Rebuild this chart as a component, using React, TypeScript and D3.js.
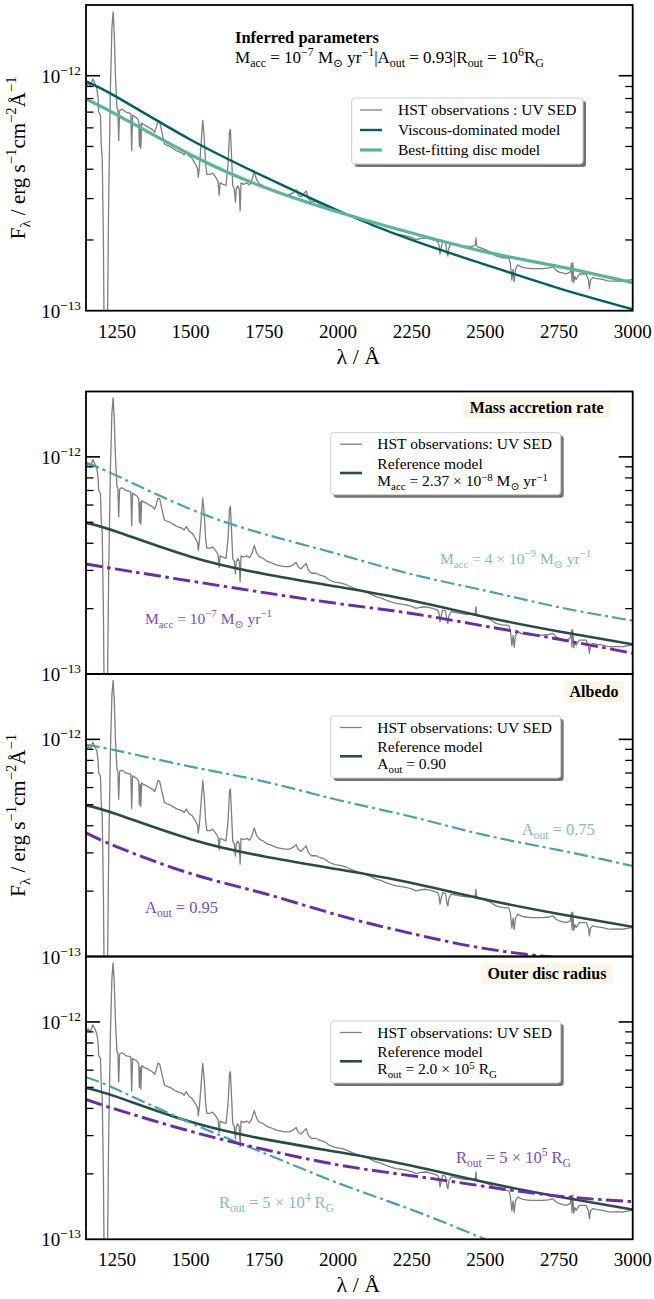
import React from 'react';
import * as d3 from 'd3';

// ---------------- DATA ----------------
// Observed HST UV SED (wavelength in Å, flux in 1e-12 erg s^-1 cm^-2 Å^-1)
const HST_WAVELENGTH = [
  1145, 1152, 1160, 1168, 1175, 1182, 1186, 1188, 1194, 1197, 1200, 1204, 1208, 1216, 1222, 1228, 1233, 1237, 1241, 1245,
  1250, 1253, 1256, 1259, 1265, 1270, 1280, 1290, 1297, 1300, 1303, 1310, 1318, 1324, 1326, 1329, 1331, 1334, 1340, 1350,
  1360, 1370, 1378, 1383, 1389, 1395, 1402, 1411, 1420, 1430, 1440, 1451, 1460, 1470, 1478, 1485, 1495, 1505, 1512, 1519,
  1524, 1526, 1530, 1535, 1541, 1546, 1551, 1555, 1565, 1575, 1585, 1593, 1597, 1600, 1610, 1620, 1627, 1632, 1635, 1639,
  1643, 1648, 1652, 1655, 1660, 1665, 1668, 1671, 1680, 1690, 1700, 1708, 1716, 1724, 1733, 1745, 1760, 1775, 1790, 1805,
  1820, 1835, 1848, 1858, 1866, 1875, 1884, 1892, 1900, 1910, 1926, 1940, 1955, 1971, 1990, 2011, 2030, 2050, 2070, 2095,
  2115, 2129, 2145, 2163, 2180, 2197, 2215, 2231, 2250, 2265, 2282, 2299, 2321, 2338, 2343, 2346, 2350, 2355, 2365, 2370,
  2373, 2376, 2384, 2400, 2412, 2435, 2455, 2466, 2468, 2470, 2474, 2491, 2508, 2519, 2536, 2559, 2570, 2580, 2585, 2590,
  2594, 2598, 2602, 2610, 2625, 2638, 2655, 2672, 2695, 2715, 2729, 2740, 2751, 2774, 2788, 2792, 2794, 2797, 2800, 2804,
  2808, 2819, 2842, 2850, 2853, 2857, 2864, 2880, 2898, 2915, 2932, 2950, 2966, 2985, 3000,
];
const HST_FLUX = [
  0.89, 0.93, 0.9, 0.97, 0.93, 0.88, 0.8, 0.7, 0.68, 0.5, 0.45, 0.2, 0.05, 0.05, 0.3, 0.9, 1.6, 1.87, 1.5, 1.0,
  0.73, 0.72, 0.53, 0.71, 0.72, 0.718, 0.7, 0.695, 0.69, 0.48, 0.68, 0.67, 0.66, 0.64, 0.5, 0.62, 0.49, 0.63, 0.62, 0.612,
  0.6, 0.59, 0.575, 0.6, 0.646, 0.64, 0.58, 0.513, 0.505, 0.5, 0.49, 0.48, 0.475, 0.47, 0.46, 0.478, 0.455, 0.445, 0.43, 0.415,
  0.4, 0.37, 0.41, 0.5, 0.645, 0.55, 0.42, 0.38, 0.38, 0.385, 0.37, 0.355, 0.31, 0.35, 0.345, 0.341, 0.42, 0.58, 0.59, 0.45,
  0.34, 0.33, 0.29, 0.33, 0.34, 0.33, 0.266, 0.35, 0.345, 0.35, 0.343, 0.36, 0.391, 0.36, 0.347, 0.341, 0.33, 0.325, 0.318, 0.315,
  0.312, 0.312, 0.318, 0.327, 0.31, 0.305, 0.315, 0.323, 0.3, 0.291, 0.291, 0.285, 0.281, 0.271, 0.265, 0.262, 0.257, 0.25, 0.244, 0.239,
  0.232, 0.227, 0.224, 0.219, 0.215, 0.2115, 0.21, 0.208, 0.205, 0.2006, 0.203, 0.204, 0.2006, 0.197, 0.19, 0.174, 0.185, 0.197, 0.195, 0.175,
  0.171, 0.185, 0.1936, 0.192, 0.19, 0.188, 0.188, 0.19, 0.204, 0.19, 0.187, 0.1836, 0.18, 0.1773, 0.171, 0.168, 0.168, 0.167, 0.158, 0.135,
  0.15, 0.133, 0.15, 0.1566, 0.153, 0.152, 0.151, 0.151, 0.151, 0.152, 0.1538, 0.1485, 0.146, 0.1433, 0.146, 0.159, 0.133, 0.16, 0.132, 0.14,
  0.1359, 0.1433, 0.1433, 0.135, 0.1244, 0.135, 0.1383, 0.137, 0.1359, 0.134, 0.1335, 0.134, 0.1335, 0.135, 0.136,
];

// Model curves sampled at these wavelengths (flux in 1e-12 units)
const MODEL_WAVELENGTH = [1145, 1250, 1500, 1750, 2000, 2250, 2500, 2750, 3000];
const VISCOUS_MODEL = [0.946, 0.811, 0.534, 0.372, 0.267, 0.2, 0.157, 0.1245, 0.1014];
const BEST_FIT_MODEL = [0.795, 0.682, 0.461, 0.335, 0.263, 0.214, 0.178, 0.154, 0.1316];
const REFERENCE_MODEL = [0.497, 0.452, 0.347, 0.289, 0.252, 0.218, 0.183, 0.157, 0.137];
const MACC_4E9 = [0.942, 0.818, 0.574, 0.441, 0.357, 0.288, 0.242, 0.203, 0.176];
const MACC_1E7 = [0.321, 0.304, 0.268, 0.237, 0.211, 0.19, 0.166, 0.1445, 0.1245];
const AOUT_075 = [0.943, 0.888, 0.749, 0.639, 0.526, 0.44, 0.362, 0.309, 0.261];
const AOUT_095 = [0.371, 0.32, 0.241, 0.195, 0.155, 0.1276, 0.1087, 0.0985];
const ROUT_5E4 = [0.557, 0.489, 0.343, 0.249, 0.1815, 0.1367, 0.1];
const ROUT_5E5 = [0.44, 0.395, 0.314, 0.259, 0.22, 0.196, 0.175, 0.158, 0.149];

const X_TICKS = [1250, 1500, 1750, 2000, 2250, 2500, 2750, 3000];
const X_DOMAIN = [1145, 3000];
const Y_DOMAIN = [1e-13, 2e-12];
const Y_MINOR = [2e-13, 3e-13, 4e-13, 5e-13, 6e-13, 7e-13, 8e-13, 9e-13];
const FLUX_UNIT = 1e-12;

// ---------------- STYLE / LAYOUT ----------------
const FONT = "'Liberation Serif', 'DejaVu Serif', serif";
const C_SPEC = '#7f7f7f';
const C_VISC = '#005f64';
const C_BEST = '#5ab59c';
const C_REF = '#2a4c48';
const C_TEAL = '#4ca3a6';
const C_PURPLE = '#6a2ca8';
const C_TEAL_TXT = '#80bcbc';
const C_PURPLE_TXT = '#7c4cbc';

const LEFT = 86;
const RIGHT = 632.7;
const LEG_FS = 15.5;

type Seg = { t: string; s?: 'sub' | 'sup' };

function MText(props: {
  x: number; y: number; segs: Seg[]; fs: number; fill?: string; anchor?: string; weight?: string; transform?: string; supK?: number;
}) {
  const { x, y, segs, fs, fill = '#000', anchor = 'start', weight = 'normal', transform, supK = 0.42 } = props;
  let cur = 0;
  const spans = segs.map((s, i) => {
    const target = s.s === 'sub' ? 0.26 * fs : s.s === 'sup' ? -supK * fs : 0;
    const dy = target - cur;
    cur = target;
    return (
      <tspan key={i} dy={dy} fontSize={s.s ? fs * 0.7 : fs}>
        {s.t}
      </tspan>
    );
  });
  return (
    <text x={x} y={y} fontSize={fs} fill={fill} textAnchor={anchor as any} fontWeight={weight}
      fontFamily={FONT} transform={transform} style={{ whiteSpace: 'pre' }}>
      {spans}
    </text>
  );
}

const xScale = d3.scaleLinear().domain(X_DOMAIN).range([LEFT, RIGHT]);

function makeY(top: number, bottom: number) {
  return d3.scaleLog().domain(Y_DOMAIN).range([bottom, top]);
}

function linePath(y: d3.ScaleLogarithmic<number, number>, wl: number[], vals: number[], smooth: boolean) {
  const pts: [number, number][] = vals.map((v, i) => [wl[i], v * FLUX_UNIT]);
  const gen = d3.line<[number, number]>()
    .x((d) => xScale(d[0]))
    .y((d) => y(d[1]))
    .curve(smooth ? d3.curveNatural : d3.curveLinear);
  return gen(pts) || '';
}

function Frame(props: { top: number; bottom: number; id: string; children?: React.ReactNode; xLabels?: boolean }) {
  const { top, bottom, id, children, xLabels } = props;
  const y = makeY(top, bottom);
  return (
    <g>
      <defs>
        <clipPath id={id}>
          <rect x={LEFT} y={top} width={RIGHT - LEFT} height={bottom - top} />
        </clipPath>
      </defs>
      <g clipPath={`url(#${id})`}>{children}</g>
      {Y_MINOR.map((v) => (
        <g key={v}>
          <line x1={LEFT} x2={LEFT + 7.5} y1={y(v)} y2={y(v)} stroke="#000" strokeWidth={1.3} />
          <line x1={RIGHT} x2={RIGHT - 7.5} y1={y(v)} y2={y(v)} stroke="#000" strokeWidth={1.3} />
        </g>
      ))}
      <line x1={LEFT} x2={LEFT + 14} y1={y(1e-12)} y2={y(1e-12)} stroke="#000" strokeWidth={1.6} />
      <line x1={RIGHT} x2={RIGHT - 14} y1={y(1e-12)} y2={y(1e-12)} stroke="#000" strokeWidth={1.6} />
      <rect x={LEFT} y={top} width={RIGHT - LEFT} height={bottom - top} fill="none" stroke="#000" strokeWidth={1.8} />
      <MText x={81} y={y(1e-12) + 7} fs={19} anchor="end" segs={[{ t: '10' }, { t: '−12', s: 'sup' }]} />
      <MText x={81} y={y(1e-13) + 7} fs={19} anchor="end" segs={[{ t: '10' }, { t: '−13', s: 'sup' }]} />
      {xLabels && (
        <g>
          {X_TICKS.map((t) => (
            <text key={t} x={xScale(t)} y={bottom + 27} fontSize={19} fontFamily={FONT} textAnchor="middle">
              {t}
            </text>
          ))}
          <MText x={(LEFT + RIGHT) / 2 - 1} y={bottom + 53} fs={22} anchor="middle" segs={[{ t: 'λ / Å' }]} />
        </g>
      )}
    </g>
  );
}

const Y_LABEL: Seg[] = [
  { t: 'F' }, { t: 'λ', s: 'sub' }, { t: ' / erg s' }, { t: '−1', s: 'sup' }, { t: 'cm' }, { t: '−2', s: 'sup' }, { t: 'Å' }, { t: '−1', s: 'sup' },
];

function Legend(props: { x: number; y: number; w: number; h: number; children: React.ReactNode }) {
  const { x, y, w, h, children } = props;
  return (
    <g>
      <rect x={x + 3} y={y + 3} width={w} height={h} rx={3} fill="#000" opacity={0.55} />
      <rect x={x} y={y} width={w} height={h} rx={3} fill="#fff" stroke="#cccccc" strokeWidth={1} />
      {children}
    </g>
  );
}

function RefLegend(props: { top: number; third: Seg[] }) {
  const { top, third } = props;
  const x = 330.7;
  return (
    <Legend x={x} y={top} w={230} h={62}>
      <line x1={340} x2={362} y1={top + 11.5} y2={top + 11.5} stroke={C_SPEC} strokeWidth={1.3} />
      <text x={377.3} y={top + 16.5} fontSize={LEG_FS} fontFamily={FONT}>HST observations: UV SED</text>
      <line x1={340} x2={362} y1={top + 40.3} y2={top + 40.3} stroke={C_REF} strokeWidth={2.6} />
      <text x={377.3} y={top + 36} fontSize={LEG_FS} fontFamily={FONT}>Reference model</text>
      <MText x={377.3} y={top + 53} fs={LEG_FS} segs={third} supK={0.33} />
    </Legend>
  );
}

function TagBox(props: { x: number; y: number; w: number; label: string }) {
  const { x, y, w, label } = props;
  return (
    <g>
      <rect x={x} y={y} width={w} height={21} fill="#fdf5e6" />
      <text x={x + w / 2} y={y + 15.5} fontSize={16} fontWeight="bold" fontFamily={FONT} textAnchor="middle">
        {label}
      </text>
    </g>
  );
}

const DASHDOT_T = '14 4 3 4';
const DASHDOT_P = '17 4.5 3.5 4.5';

export default function App() {
  const P1 = { top: 5, bottom: 310.7 };
  const P2 = { top: 391.5, bottom: 674 };
  const P3 = { top: 674, bottom: 956.5 };
  const P4 = { top: 956.5, bottom: 1239.3 };
  const y1 = makeY(P1.top, P1.bottom);
  const y2 = makeY(P2.top, P2.bottom);
  const y3 = makeY(P3.top, P3.bottom);
  const y4 = makeY(P4.top, P4.bottom);

  const spec = (y: any) => (
    <path d={linePath(y, HST_WAVELENGTH, HST_FLUX, false)} fill="none" stroke={C_SPEC} strokeWidth={1.3} strokeLinejoin="round" />
  );
  const ref = (y: any) => (
    <path d={linePath(y, MODEL_WAVELENGTH, REFERENCE_MODEL, true)} fill="none" stroke={C_REF} strokeWidth={2.6} />
  );
  const dd = (y: any, vals: number[], color: string, purple: boolean) => (
    <path d={linePath(y, MODEL_WAVELENGTH.slice(0, vals.length), vals, true)} fill="none" stroke={color}
      strokeWidth={purple ? 2.9 : 2.2} strokeDasharray={purple ? DASHDOT_P : DASHDOT_T} />
  );

  return (
    <svg width={654} height={1299} style={{ position: 'absolute', left: 0, top: 0, background: '#fff' }}>
      <rect width={654} height={1299} fill="#fff" />
      {/* Panel 1 */}
      <Frame top={P1.top} bottom={P1.bottom} id="c1" xLabels>
        {spec(y1)}
        <path d={linePath(y1, MODEL_WAVELENGTH, VISCOUS_MODEL, true)} fill="none" stroke={C_VISC} strokeWidth={2.4} />
        <path d={linePath(y1, MODEL_WAVELENGTH, BEST_FIT_MODEL, true)} fill="none" stroke={C_BEST} strokeWidth={3.2} />
      </Frame>
      <text x={235} y={43} fontSize={16.5} fontWeight="bold" fontFamily={FONT}>Inferred parameters</text>
      <MText x={235} y={63} fs={17} segs={[
        { t: 'M' }, { t: 'acc', s: 'sub' }, { t: ' = 10' }, { t: '−7', s: 'sup' }, { t: ' M' }, { t: '⊙', s: 'sub' },
        { t: ' yr' }, { t: '−1', s: 'sup' }, { t: '|A' }, { t: 'out', s: 'sub' }, { t: ' = 0.93|R' }, { t: 'out', s: 'sub' },
        { t: ' = 10' }, { t: '6', s: 'sup' }, { t: 'R' }, { t: 'G', s: 'sub' },
      ]} />
      <Legend x={351.7} y={98} w={231.3} h={66}>
        <line x1={360} x2={382} y1={110} y2={110} stroke={C_SPEC} strokeWidth={1.3} />
        <text x={398} y={115} fontSize={LEG_FS} fontFamily={FONT}>HST observations : UV SED</text>
        <line x1={360} x2={382} y1={130} y2={130} stroke={C_VISC} strokeWidth={2.4} />
        <text x={398} y={135} fontSize={LEG_FS} fontFamily={FONT}>Viscous-dominated model</text>
        <line x1={360} x2={382} y1={150} y2={150} stroke={C_BEST} strokeWidth={3.2} />
        <text x={398} y={155} fontSize={LEG_FS} fontFamily={FONT}>Best-fitting disc model</text>
      </Legend>
      <MText x={25} y={(P1.top + P1.bottom) / 2} fs={21} anchor="middle" segs={Y_LABEL}
        transform={`rotate(-90 25 ${(P1.top + P1.bottom) / 2})`} />

      {/* Panel 2 */}
      <Frame top={P2.top} bottom={P2.bottom} id="c2">
        {spec(y2)}
        {ref(y2)}
        {dd(y2, MACC_4E9, C_TEAL, false)}
        {dd(y2, MACC_1E7, C_PURPLE, true)}
      </Frame>
      <TagBox x={462.7} y={397} w={148} label="Mass accretion rate" />
      <RefLegend top={432.7} third={[{ t: 'M' }, { t: 'acc', s: 'sub' }, { t: ' = 2.37 × 10' }, { t: '−8', s: 'sup' }, { t: ' M' }, { t: '⊙', s: 'sub' }, { t: ' yr' }, { t: '−1', s: 'sup' }]} />
      <MText x={440} y={564} fs={15.5} fill={C_TEAL_TXT} segs={[{ t: 'M' }, { t: 'acc', s: 'sub' }, { t: ' = 4 × 10' }, { t: '−9', s: 'sup' }, { t: ' M' }, { t: '⊙', s: 'sub' }, { t: ' yr' }, { t: '−1', s: 'sup' }]} />
      <MText x={145} y={624} fs={15.5} fill={C_PURPLE_TXT} segs={[{ t: 'M' }, { t: 'acc', s: 'sub' }, { t: ' = 10' }, { t: '−7', s: 'sup' }, { t: ' M' }, { t: '⊙', s: 'sub' }, { t: ' yr' }, { t: '−1', s: 'sup' }]} />

      {/* Panel 3 */}
      <Frame top={P3.top} bottom={P3.bottom} id="c3">
        {spec(y3)}
        {ref(y3)}
        {dd(y3, AOUT_075, C_TEAL, false)}
        {dd(y3, AOUT_095, C_PURPLE, true)}
      </Frame>
      <TagBox x={564} y={681} w={60} label="Albedo" />
      <RefLegend top={716} third={[{ t: 'A' }, { t: 'out', s: 'sub' }, { t: ' = 0.90' }]} />
      <MText x={521.7} y={835} fs={16.5} fill={C_TEAL_TXT} segs={[{ t: 'A' }, { t: 'out', s: 'sub' }, { t: ' = 0.75' }]} />
      <MText x={145} y={913} fs={16.5} fill={C_PURPLE_TXT} segs={[{ t: 'A' }, { t: 'out', s: 'sub' }, { t: ' = 0.95' }]} />
      <MText x={25} y={(P3.top + P3.bottom) / 2} fs={21} anchor="middle" segs={Y_LABEL}
        transform={`rotate(-90 25 ${(P3.top + P3.bottom) / 2})`} />

      {/* Panel 4 */}
      <Frame top={P4.top} bottom={P4.bottom} id="c4" xLabels>
        {spec(y4)}
        {ref(y4)}
        {dd(y4, ROUT_5E4, C_TEAL, false)}
        {dd(y4, ROUT_5E5, C_PURPLE, true)}
      </Frame>
      <TagBox x={481} y={963} w={132} label="Outer disc radius" />
      <RefLegend top={1021} third={[{ t: 'R' }, { t: 'out', s: 'sub' }, { t: ' = 2.0 × 10' }, { t: '5', s: 'sup' }, { t: ' R' }, { t: 'G', s: 'sub' }]} />
      <MText x={219} y={1208} fs={16.5} fill={C_TEAL_TXT} segs={[{ t: 'R' }, { t: 'out', s: 'sub' }, { t: ' = 5 × 10' }, { t: '4', s: 'sup' }, { t: ' R' }, { t: 'G', s: 'sub' }]} />
      <MText x={456} y={1163} fs={16.5} fill={C_PURPLE_TXT} segs={[{ t: 'R' }, { t: 'out', s: 'sub' }, { t: ' = 5 × 10' }, { t: '5', s: 'sup' }, { t: ' R' }, { t: 'G', s: 'sub' }]} />
    </svg>
  );
}
